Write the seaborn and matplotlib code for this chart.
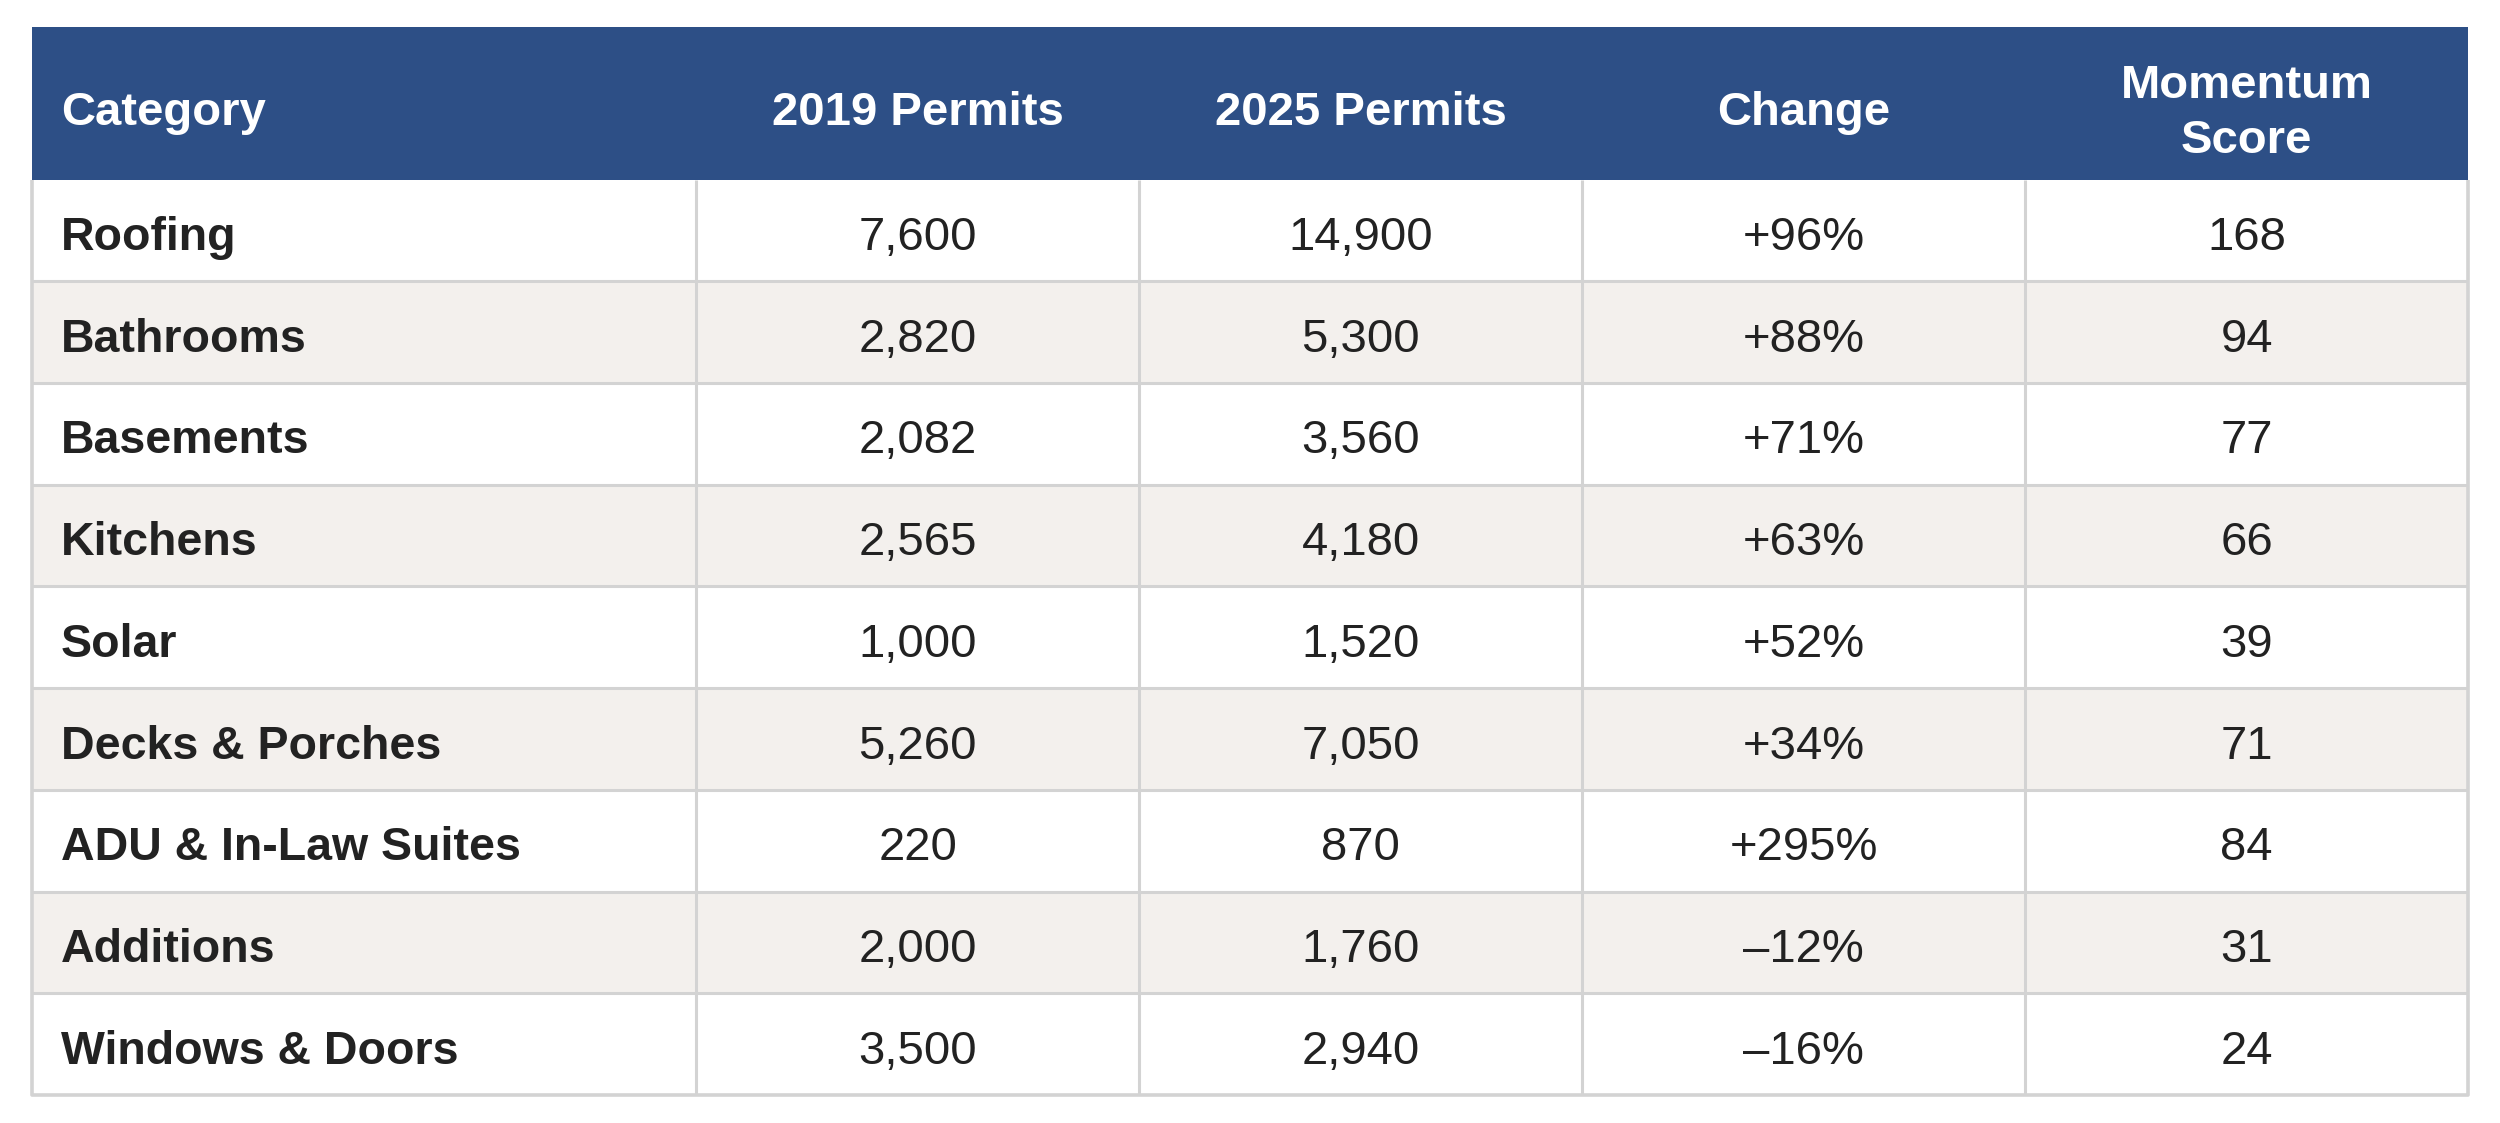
import numpy as np
import matplotlib
matplotlib.use("Agg")
import matplotlib.pyplot as plt
import seaborn as sns
from matplotlib.colors import ListedColormap

# =========================
# Data
# =========================
headers = ["Category", "2019 Permits", "2025 Permits", "Change", "Momentum\nScore"]
categories = ["Roofing", "Bathrooms", "Basements", "Kitchens", "Solar",
              "Decks & Porches", "ADU & In-Law Suites", "Additions", "Windows & Doors"]
permits_2019 = [7600, 2820, 2082, 2565, 1000, 5260, 220, 2000, 3500]
permits_2025 = [14900, 5300, 3560, 4180, 1520, 7050, 870, 1760, 2940]
change_pct = [96, 88, 71, 63, 52, 34, 295, -12, -16]
momentum = [168, 94, 77, 66, 39, 71, 84, 31, 24]

# =========================
# Style
# =========================
HEADER_BLUE = "#2d4f86"
ROW_WHITE = "#ffffff"
ROW_GRAY = "#f3f0ed"
GRID = "#d3d3d3"
TEXT = "#222222"

COL_UNITS = [3, 2, 2, 2, 2]   # category column is 1.5x wider
HEAD_UNITS = 3                # header row is 1.5x taller
ROW_UNITS = 2

sns.set_theme(style="white")
plt.rcParams["font.family"] = ["Liberation Sans", "DejaVu Sans"]


def fmt_change(v):
    return f"+{v}%" if v >= 0 else f"\u2013{abs(v)}%"


# cell text per row
body = []
for i in range(len(categories)):
    body.append([categories[i],
                 f"{permits_2019[i]:,}",
                 f"{permits_2025[i]:,}",
                 fmt_change(change_pct[i]),
                 str(momentum[i])])

# =========================
# Build fill grid (0 header, 1 white, 2 gray)
# =========================
row_codes = [0] + [1 if i % 2 == 0 else 2 for i in range(len(categories))]
row_spans = [HEAD_UNITS] + [ROW_UNITS] * len(categories)
fill = np.repeat(np.array(row_codes), row_spans)[:, None] * np.ones((1, sum(COL_UNITS)))

col_edges = np.concatenate([[0], np.cumsum(COL_UNITS)])
row_edges = np.concatenate([[0], np.cumsum(row_spans)])
col_mid = (col_edges[:-1] + col_edges[1:]) / 2
row_mid = (row_edges[:-1] + row_edges[1:]) / 2

# =========================
# Plot
# =========================
fig = plt.figure(figsize=(25, 11.23), dpi=100)
ax = fig.add_axes([0.0128, 0.0249, 0.9744, 0.9511])

sns.heatmap(fill, cmap=ListedColormap([HEADER_BLUE, ROW_WHITE, ROW_GRAY]),
            vmin=-0.5, vmax=2.5, cbar=False, xticklabels=False, yticklabels=False,
            ax=ax)

# grid lines
top_body = row_edges[1]
bottom = row_edges[-1]
right = col_edges[-1]
for y in row_edges[2:-1]:
    ax.plot([0, right], [y, y], color=GRID, lw=2.2, solid_capstyle="butt")
for x in col_edges[1:-1]:
    ax.plot([x, x], [top_body, bottom], color=GRID, lw=2.2, solid_capstyle="butt")
ax.plot([0, 0, right, right], [top_body, bottom, bottom, top_body],
        color=GRID, lw=2.6, solid_capstyle="butt", clip_on=False)

FS = 34
pad = 0.13
dy = 0.15

# header text
for j, h in enumerate(headers):
    if j == 0:
        ax.text(col_edges[0] + pad, row_mid[0] + 0.2, h, ha="left", va="center",
                color="white", fontsize=FS, fontweight="bold")
    else:
        ax.text(col_mid[j], row_mid[0] + 0.2, h, ha="center", va="center",
                color="white", fontsize=FS, fontweight="bold", linespacing=1.3)

# body text
for i, row in enumerate(body):
    y = row_mid[i + 1] + dy
    for j, s in enumerate(row):
        if j == 0:
            ax.text(col_edges[0] + pad, y, s, ha="left", va="center",
                    color=TEXT, fontsize=FS - 0.5, fontweight="bold")
        else:
            ax.text(col_mid[j], y, s, ha="center", va="center",
                    color=TEXT, fontsize=FS)

ax.set_xlim(0, right)
ax.set_ylim(bottom, 0)
ax.axis("off")

fig.savefig("out.png", dpi=100, facecolor="white")
plt.close(fig)
